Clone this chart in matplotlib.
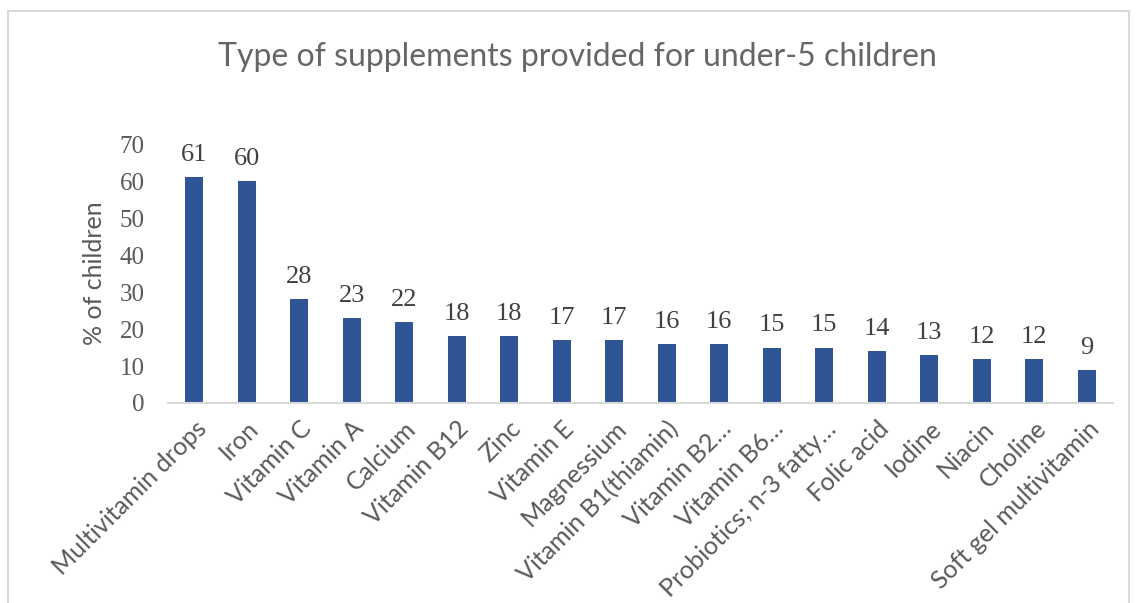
import matplotlib
matplotlib.use('Agg')
import matplotlib.pyplot as plt
from matplotlib.patches import Rectangle

categories = [
    "Multivitamin drops", "Iron", "Vitamin C", "Vitamin A", "Calcium",
    "Vitamin B12", "Zinc", "Vitamin E", "Magnessium", "Vitamin B1(thiamin)",
    "Vitamin B2\u2026", "Vitamin B6\u2026", "Probiotics; n-3 fatty\u2026",
    "Folic acid", "Iodine", "Niacin", "Choline", "Soft gel multivitamin",
]
percent = [61, 60, 28, 23, 22, 18, 18, 17, 17, 16, 16, 15, 15, 14, 13, 12, 12, 9]

bar_color = "#2F5597"
text_gray = "#595959"
grid_gray = "#D9D9D9"
sans = ["Lato", "DejaVu Sans"]
serif = ["Liberation Serif", "DejaVu Serif"]

fig = plt.figure(figsize=(11.37, 6.03), dpi=100)
ax = fig.add_axes([0.1478, 0.3317, 0.979 - 0.1478, 0.761 - 0.3317])

# outer chart frame
fig.patches.append(Rectangle((0.007, -0.01), 0.986, 0.992, transform=fig.transFigure,
                             fill=False, edgecolor=grid_gray, linewidth=1.5))

x = range(len(categories))
bars = ax.bar(x, percent, width=0.34, color=bar_color)
for b, v in zip(bars, percent):
    ax.text(b.get_x() + b.get_width() / 2, v + 3, str(v), ha="center", va="bottom",
            fontsize=19, family=serif, color="#404040")

ax.set_xlim(-0.5, len(categories) - 0.5)
ax.set_ylim(0, 70)
ax.set_yticks(range(0, 71, 10))
ax.set_yticklabels([str(t) for t in range(0, 71, 10)], fontsize=18, family=serif, color=text_gray)
ax.set_xticks(list(x))
ax.set_xticklabels(categories, rotation=45, ha="right", rotation_mode="anchor",
                   fontsize=18, family=sans, color=text_gray)
ax.tick_params(axis="both", length=0)
ax.tick_params(axis="x", pad=10)
ax.tick_params(axis="y", pad=17)

for s in ["top", "right", "left"]:
    ax.spines[s].set_visible(False)
ax.spines["bottom"].set_color(grid_gray)
ax.spines["bottom"].set_linewidth(1.5)

ax.set_ylabel("% of children", fontsize=18, family=sans, color=text_gray, labelpad=10)
fig.text(0.508, 0.905, "Type of supplements provided for under-5 children", ha="center",
         va="center", fontsize=23, family=sans, color="#666666")

plt.savefig("out.png", dpi=100)
plt.close()
